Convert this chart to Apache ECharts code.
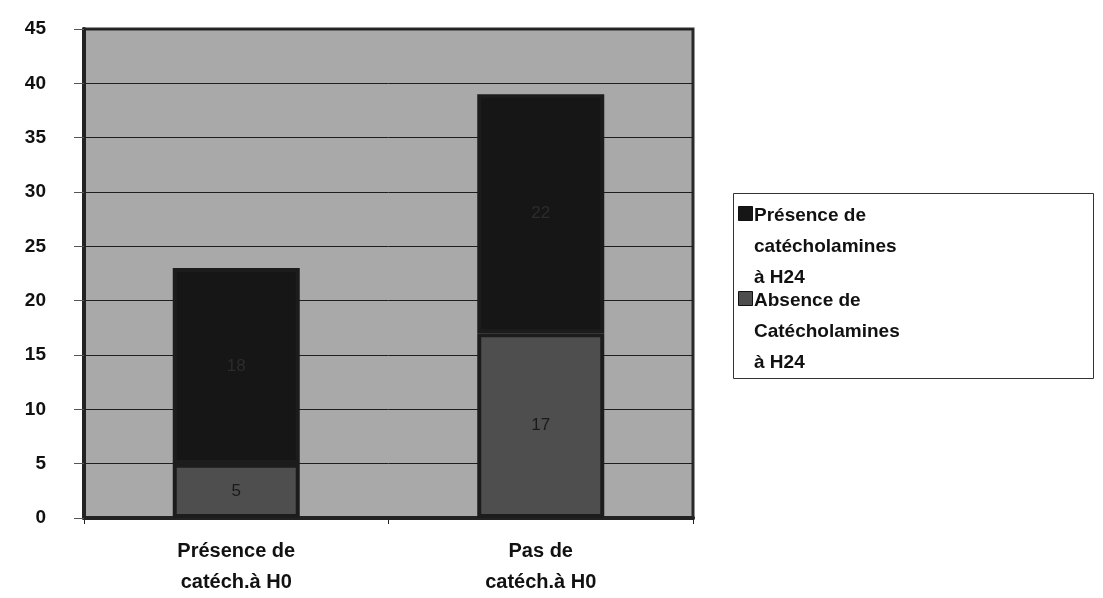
<!DOCTYPE html>
<html>
<head>
<meta charset="utf-8">
<script src="https://cdn.jsdelivr.net/npm/echarts@6/dist/echarts.min.js"></script>
<style>html,body{margin:0;padding:0;background:#fff}#c{width:1103px;height:598px}</style>
</head>
<body>
<div id="c"></div>
<script>
const categories = ['Présence de\ncatéch.à H0', 'Pas de\ncatéch.à H0'];
const absenceH24 = [5, 17];
const presenceH24 = [18, 22];
const seriesNames = ['Présence de\ncatécholamines\nà H24', 'Absence de\nCatécholamines\nà H24'];
const yTicks = { min: 0, max: 45, interval: 5 };

const font = 'Liberation Sans, Arial, sans-serif';
const colPresence = '#161616';
const colAbsence = '#4e4e4e';
const chart = echarts.init(document.getElementById('c'));

const legendItems = [
  { name: seriesNames[0], color: colPresence, top: 205 },
  { name: seriesNames[1], color: colAbsence, top: 290 }
];
const legendGraphic = [
  { type: 'rect', left: 733, top: 193, shape: { width: 360, height: 185 },
    style: { fill: '#fff', stroke: '#333', lineWidth: 1 } }
];
legendItems.forEach(it => {
  legendGraphic.push({ type: 'rect', left: 738, top: it.top + 1, shape: { width: 14, height: 14 },
    style: { fill: it.color, stroke: '#111', lineWidth: 1 } });
  legendGraphic.push({ type: 'text', left: 754, top: it.top - 5,
    style: { text: it.name, fill: '#111', font: 'bold 19px ' + font, lineHeight: 31 } });
});

chart.setOption({
  animation: false,
  textStyle: { fontFamily: font },
  grid: {
    left: 84, right: 410, top: 29, bottom: 76,
    show: true, backgroundColor: '#a9a9a9', borderColor: '#2a2a2a', borderWidth: 3
  },
  graphic: legendGraphic,
  xAxis: {
    type: 'category',
    data: categories,
    axisLine: { lineStyle: { color: '#222', width: 4 } },
    axisTick: { show: true, length: 6, lineStyle: { color: '#222' } },
    axisLabel: { fontSize: 20, fontWeight: 'bold', color: '#111', lineHeight: 31, margin: 18, fontFamily: font }
  },
  yAxis: {
    type: 'value',
    min: yTicks.min, max: yTicks.max, interval: yTicks.interval,
    axisLine: { show: true, lineStyle: { color: '#222', width: 4 } },
    axisTick: { show: true, length: 10, lineStyle: { color: '#555' } },
    axisLabel: { fontSize: 19, fontWeight: 'bold', color: '#111', margin: 38, fontFamily: font },
    splitLine: { lineStyle: { color: '#1e1e1e', width: 1 } }
  },
  series: [
    {
      name: seriesNames[1], type: 'bar', stack: 'tot', data: absenceH24,
      barWidth: 127,
      itemStyle: { color: colAbsence, borderColor: '#1c1c1c', borderWidth: 4 },
      label: { show: true, position: 'inside', fontSize: 17, color: '#1a1a1a', fontFamily: font }
    },
    {
      name: seriesNames[0], type: 'bar', stack: 'tot', data: presenceH24,
      barWidth: 127,
      itemStyle: { color: colPresence, borderColor: '#1c1c1c', borderWidth: 4 },
      label: { show: true, position: 'inside', fontSize: 17, color: '#2c2c2c', fontFamily: font }
    }
  ]
});
</script>
</body>
</html>
